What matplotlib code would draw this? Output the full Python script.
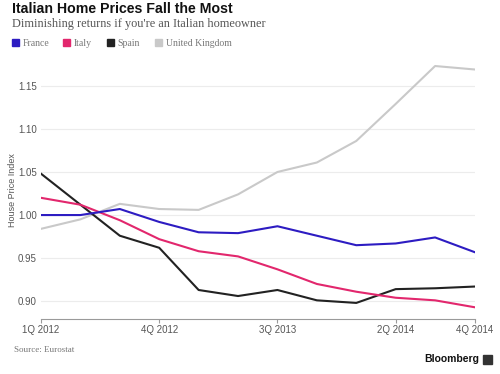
import matplotlib.pyplot as plt
from matplotlib.patches import Rectangle

# quarters 1Q2012 .. 4Q2014
quarters = ["1Q 2012", "2Q 2012", "3Q 2012", "4Q 2012",
            "1Q 2013", "2Q 2013", "3Q 2013", "4Q 2013",
            "1Q 2014", "2Q 2014", "3Q 2014", "4Q 2014"]
france = [1.000, 1.000, 1.007, 0.992, 0.980, 0.979, 0.987, 0.976, 0.965, 0.967, 0.974, 0.957]
italy = [1.020, 1.012, 0.994, 0.972, 0.958, 0.952, 0.937, 0.920, 0.911, 0.904, 0.901, 0.893]
spain = [1.048, 1.012, 0.976, 0.962, 0.913, 0.906, 0.913, 0.901, 0.898, 0.914, 0.915, 0.917]
uk = [0.984, 0.995, 1.013, 1.007, 1.006, 1.024, 1.050, 1.061, 1.086, 1.129, 1.173, 1.169]

shown_ticks = ["1Q 2012", "4Q 2012", "3Q 2013", "2Q 2014", "4Q 2014"]
y_ticks = [0.90, 0.95, 1.00, 1.05, 1.10, 1.15]

series = [("France", france, "#2d1cc2"),
          ("Italy", italy, "#e2276d"),
          ("Spain", spain, "#222222"),
          ("United Kingdom", uk, "#c9c9c9")]

sans = "Liberation Sans"
serif = "Liberation Serif"

fig = plt.figure(figsize=(5, 3.74), dpi=100)
ax = fig.add_axes([0.082, 0.1463, 0.867, 0.6933])

x = list(range(len(quarters)))
# draw UK first so it sits behind
for name, vals, col in reversed(series):
    ax.plot(x, vals, color=col, lw=1.5, solid_joinstyle="round")

ax.set_xlim(0, 11)
ax.set_ylim(0.879, 1.18)
ax.set_yticks(y_ticks)
ax.set_yticklabels([f"{v:.2f}" for v in y_ticks])
ax.set_xticks([quarters.index(q) for q in shown_ticks])
ax.set_xticklabels(shown_ticks)
ax.grid(axis="y", color="#ececec", lw=0.8)
ax.set_axisbelow(True)
for s in ["top", "right", "left"]:
    ax.spines[s].set_visible(False)
ax.spines["bottom"].set_color("#9a9a9a")
ax.spines["bottom"].set_linewidth(0.8)
ax.tick_params(axis="y", length=0, pad=3, labelsize=7, labelcolor="#555555")
ax.tick_params(axis="x", length=3, color="#9a9a9a", pad=1, labelsize=7, labelcolor="#555555")
for lab in ax.get_xticklabels() + ax.get_yticklabels():
    lab.set_fontfamily(sans)
ax.set_ylabel("House Price Index", fontsize=6.5, color="#555555", family=sans)
ax.yaxis.set_label_coords(-0.056, 0.5)

# header
fig.text(0.024, 0.977, "Italian Home Prices Fall the Most", fontsize=10.2, weight="bold",
         family=sans, color="#111111", va="center")
fig.text(0.024, 0.935, "Diminishing returns if you're an Italian homeowner", fontsize=8.8,
         family=serif, color="#555555", va="center")

# legend
leg_x = [0.024, 0.126, 0.214, 0.31]
for (name, vals, col), lx in zip(series, leg_x):
    fig.patches.append(Rectangle((lx, 0.876), 0.014, 0.019, transform=fig.transFigure,
                                 color=col, figure=fig))
    fig.text(lx + 0.021, 0.885, name, fontsize=7, family=serif, color="#777777", va="center")

# footer
fig.text(0.028, 0.063, "Source: Eurostat", fontsize=6.5, family=serif, color="#777777", va="center")
fig.text(0.958, 0.04, "Bloomberg", fontsize=7.5, weight="bold", family=sans,
         color="#111111", ha="right", va="center")
fig.patches.append(Rectangle((0.966, 0.027), 0.017, 0.025, transform=fig.transFigure,
                             color="#333333", figure=fig))

fig.savefig("out.png", dpi=100)
